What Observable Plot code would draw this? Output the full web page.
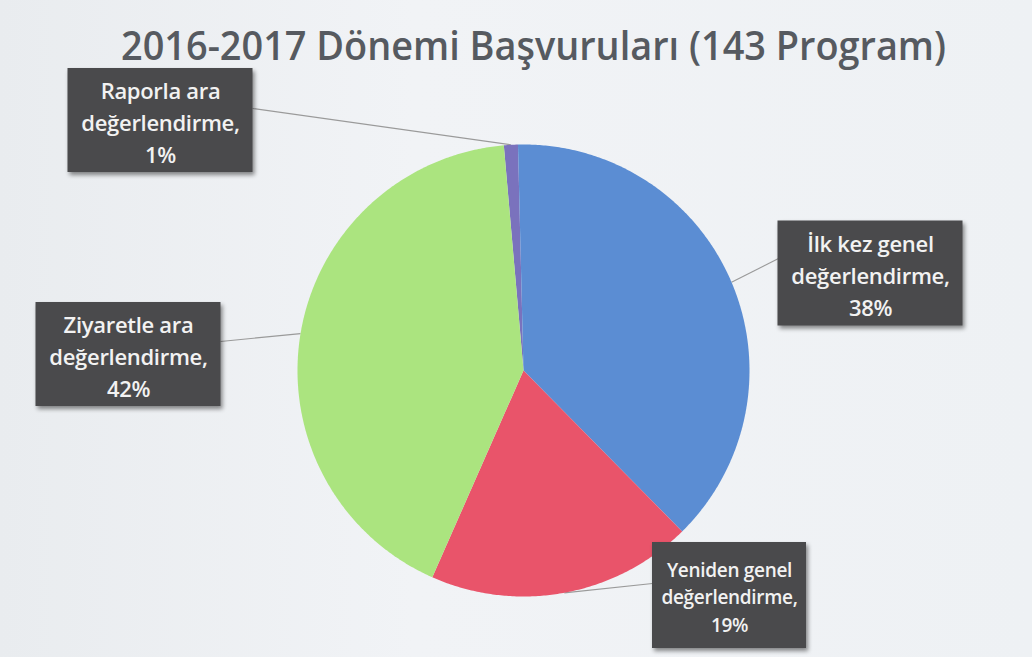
<!DOCTYPE html>
<html>
<head>
<meta charset="utf-8">
<script src="https://cdn.jsdelivr.net/npm/d3@7"></script>
<script src="https://cdn.jsdelivr.net/npm/@observablehq/plot@0.6"></script>
<style>
  html, body { margin: 0; padding: 0; background: #edf0f3; }
  #chart { width: 1032px; height: 657px; background: linear-gradient(90deg, #e9ecef 0%, #f1f3f6 40%, #eef1f4 100%); }
</style>
</head>
<body>
<div id="chart"></div>
<script>
// ---- data ----
const title = "2016-2017 Dönemi Başvuruları (143 Program)";
const categories = ["Raporla ara", "İlk kez genel", "Yeniden genel", "Ziyaretle ara"];
const percents = [1, 38, 19, 42];
const colors = ["#7a72bd", "#5b8dd3", "#e9546a", "#abe47f"];

// ---- layout (pixels) ----
const W = 1032, H = 657;
const cx = 523, cy = 370, R = 226;
const startDeg = -5;
// box centre offsets from pie centre (px, y up), box size, leader start on box (px, y up), font size
const boxLayout = [
  {dx: -363, dy: 250, w: 185, h: 104, lx: -271, ly: 262, fs: 22},
  {dx: 347,  dy: 97,  w: 185, h: 105, lx: 255,  ly: 112, fs: 22},
  {dx: 206,  dy: -225, w: 154, h: 106, lx: 129, ly: -213, fs: 19},
  {dx: -395, dy: 16,  w: 185, h: 104, lx: -303, ly: 29, fs: 22}
];

// ---- pie geometry in unit coordinates ----
const pie = d3.pie().sort(null).startAngle(startDeg * Math.PI / 180).endAngle((360 + startDeg) * Math.PI / 180)(percents);
const slicePts = [];
pie.forEach((p, i) => {
  const name = categories[i];
  slicePts.push({name, x: 0, y: 0});
  const steps = Math.max(2, Math.ceil((p.endAngle - p.startAngle) / (Math.PI / 360)));
  for (let k = 0; k <= steps; k++) {
    const a = p.startAngle + (p.endAngle - p.startAngle) * k / steps;
    slicePts.push({name, x: Math.sin(a), y: Math.cos(a)});
  }
  slicePts.push({name, x: 0, y: 0});
});

const labels = categories.map((c, i) => {
  const L = boxLayout[i];
  const mid = (pie[i].startAngle + pie[i].endAngle) / 2;
  return {
    text: `${c}\ndeğerlendirme,\n${percents[i]}%`,
    fs: L.fs,
    x: L.dx / R, y: L.dy / R,
    x1: (L.dx - L.w / 2) / R, x2: (L.dx + L.w / 2) / R,
    y1: (L.dy - L.h / 2) / R, y2: (L.dy + L.h / 2) / R,
    lx1: L.lx / R, ly1: L.ly / R,
    lx2: Math.sin(mid), ly2: Math.cos(mid)
  };
});

const chart = Plot.plot({
  width: W,
  height: H,
  margin: 0,
  x: {domain: [-cx / R, (W - cx) / R], axis: null},
  y: {domain: [-(H - cy) / R, cy / R], axis: null},
  color: {domain: categories, range: colors},
  style: {background: "transparent", fontFamily: "Open Sans"},
  marks: [
    Plot.link(labels, {x1: "lx1", y1: "ly1", x2: "lx2", y2: "ly2", stroke: "#9a9a9a", strokeWidth: 1.2}),
    Plot.line(slicePts, {x: "x", y: "y", z: "name", fill: "name", stroke: "none", curve: "linear"}),
    Plot.rect(labels, {x1: "x1", x2: "x2", y1: "y1", y2: "y2", fill: "#4a4a4c"}),
    Plot.text(labels, {x: "x", y: "y", text: "text", fill: "#f2f2f2", fontSize: "fs", fontWeight: 600, lineHeight: 1.45, fontFamily: "Open Sans"}),
    Plot.text([title], {frameAnchor: "top", dx: 17, dy: 31, text: d => d, fontSize: 40, fill: "#565a60", fontFamily: "Open Sans", fontWeight: 600, lineAnchor: "top"})
  ]
});

d3.select(chart).selectAll('g[aria-label="rect"] rect')
  .style("filter", "drop-shadow(2px 3px 2px rgba(0,0,0,0.45))");
// condense the title to the reference's narrow face
d3.select(chart).selectAll('g[aria-label="text"]').filter((d, i, n) => i === n.length - 1)
  .selectAll("text").attr("textLength", 825).attr("lengthAdjust", "spacingAndGlyphs");
d3.select(chart).selectAll('g[aria-label="text"]').filter((d, i, n) => i === 0)
  .selectAll("text").style("letter-spacing", "-0.3px");

document.getElementById("chart").appendChild(chart);
</script>
</body>
</html>
